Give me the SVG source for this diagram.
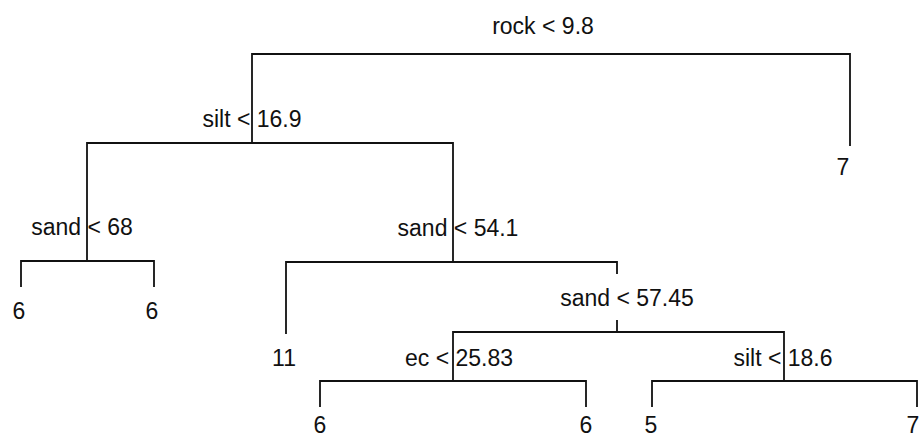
<svg xmlns="http://www.w3.org/2000/svg" width="920" height="438" viewBox="0 0 920 438">
<style>
text{font-family:"Liberation Sans",Arial,sans-serif;font-size:23px;fill:#111;text-anchor:middle}
.c{fill:none;stroke:#111;stroke-width:1.8;stroke-linecap:square;stroke-linejoin:miter}
</style>
<rect width="920" height="438" fill="#fff"/>
<g id="connectors" class="c">
<path d="M252 143V54H850V145"/>
<path d="M87 261V143H453V262"/>
<path d="M21 286V261H154V286"/>
<path d="M286 333V262H617V273"/>
<path d="M617 321V332"/>
<path d="M453 381V332H784V381"/>
<path d="M320 406V381H586V406"/>
<path d="M652 406V381H917V406"/>
</g>
<g id="n-rock"><text x="543" y="34">rock &lt; 9.8</text></g>
<g id="n-silt1"><text x="252" y="127">silt &lt; 16.9</text></g>
<g id="n-sand68"><text x="82" y="235">sand &lt; 68</text></g>
<g id="n-sand541"><text x="458" y="236">sand &lt; 54.1</text></g>
<g id="n-sand5745"><text x="627" y="306">sand &lt; 57.45</text></g>
<g id="n-ec"><text x="459" y="366">ec &lt; 25.83</text></g>
<g id="n-silt2"><text x="783" y="366">silt &lt; 18.6</text></g>
<g id="leaf-7a"><text x="843" y="175">7</text></g>
<g id="leaf-6a"><text x="19" y="319">6</text></g>
<g id="leaf-6b"><text x="152" y="319">6</text></g>
<g id="leaf-11"><text x="284" y="366">11</text></g>
<g id="leaf-6c"><text x="320" y="433">6</text></g>
<g id="leaf-6d"><text x="586" y="433">6</text></g>
<g id="leaf-5"><text x="651" y="433">5</text></g>
<g id="leaf-7b"><text x="913" y="433">7</text></g>
</svg>
